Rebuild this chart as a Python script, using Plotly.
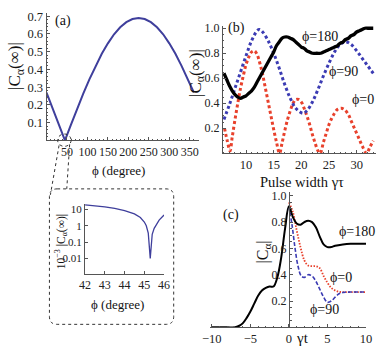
import plotly.graph_objects as go

W, H = 382, 354
FONT = "Liberation Serif, Times New Roman, serif"
NAVY = "#3f3f9c"
BLUE = "#3b3bb3"
RED = "#e8412c"
AX = "#555555"

# ---------------- data ----------------
# (a) |C_a(inf)| vs phi (degree)
phi_a = [0, 15, 30, 45, 60, 75, 90, 105, 120, 135, 150, 165, 180, 195, 210, 225,
         240, 255, 270, 285, 300, 315, 330, 345, 360]
c_a = [0.27, 0.18, 0.09, 0.0, 0.09, 0.18, 0.265, 0.345, 0.42, 0.488, 0.547, 0.598,
       0.637, 0.666, 0.684, 0.69, 0.684, 0.666, 0.637, 0.598, 0.547, 0.488, 0.42, 0.345, 0.27]

# inset: 10^-3 |C_a(inf)| vs phi near the zero
phi_in = [42, 42.5, 43, 43.5, 44, 44.5, 44.8, 45.0, 45.1, 45.2, 45.25, 45.28, 45.3,
          45.32, 45.35, 45.4, 45.5, 45.6, 45.75, 46]
c_in = [19, 17, 14.5, 11.5, 8.5, 5.3, 3.2, 1.7, 1.0, 0.35, 0.08, 0.02, 0.01,
        0.02, 0.1, 0.3, 0.7, 1.1, 2.2, 4.6]

# (b) |C_a(inf)| vs pulse width
tau_red = [6.1, 6.6, 7.1, 7.5, 8.0, 8.5, 9.0, 9.5, 10.0, 10.5, 11.0, 11.5, 12.0, 12.5,
           13.0, 13.5, 14.0, 14.5, 15.0, 15.5, 16.05, 16.5, 17.0, 17.5, 18.0, 18.5,
           19.0, 19.5, 20.0, 20.5, 21.0, 21.5, 22.0, 22.5, 23.0, 23.4, 24.0, 24.5,
           25.0, 25.5, 26.0, 26.5, 27.2, 27.8, 28.5, 29.0, 29.5, 30.0, 30.5, 31.0,
           31.8, 32.4, 33.0]
c_red = [0.20, 0.10, 0.02, 0.13, 0.27, 0.40, 0.52, 0.62, 0.71, 0.77, 0.81, 0.82, 0.79,
         0.72, 0.63, 0.52, 0.41, 0.30, 0.19, 0.09, 0.0, 0.08, 0.18, 0.27, 0.34, 0.40,
         0.43, 0.43, 0.41, 0.36, 0.30, 0.23, 0.15, 0.08, 0.02, 0.0, 0.09, 0.16,
         0.23, 0.28, 0.32, 0.35, 0.36, 0.35, 0.31, 0.26, 0.21, 0.16, 0.11, 0.06,
         0.0, 0.05, 0.10]

tau_blue = [6.0, 7.0, 8.0, 9.0, 10.0, 11.0, 12.0, 12.4, 13.0, 14.0, 15.0, 16.0, 17.0,
            18.0, 19.0, 20.3, 21.0, 22.0, 23.0, 24.0, 25.0, 26.0, 27.0, 28.1, 29.0,
            30.0, 31.0, 32.0, 33.0]
c_blue = [0.27, 0.39, 0.52, 0.65, 0.78, 0.90, 0.98, 0.99, 0.97, 0.90, 0.80, 0.68, 0.55,
          0.44, 0.36, 0.32, 0.34, 0.41, 0.51, 0.62, 0.72, 0.81, 0.87, 0.89, 0.87,
          0.82, 0.76, 0.70, 0.64]

tau_black = [6.0, 6.5, 7.0, 7.5, 8.0, 8.5, 9.0, 9.5, 10.0, 10.5, 11.0, 11.5, 12.0, 12.5,
             13.0, 13.5, 14.0, 14.5, 15.0, 15.5, 16.0, 16.5, 17.0, 17.5, 18.0, 18.5,
             19.0, 19.5, 20.0, 20.5, 21.0, 21.5, 22.0, 22.8, 23.5, 24.0, 24.5, 25.0,
             25.5, 26.0, 26.5, 27.0, 27.5, 28.0, 28.5, 29.0, 29.5, 30.0, 30.5, 31.0,
             31.5, 32.0, 32.5, 33.0]
c_black = [0.64, 0.59, 0.54, 0.50, 0.47, 0.45, 0.44, 0.45, 0.46, 0.48, 0.50, 0.53, 0.57,
           0.61, 0.65, 0.69, 0.73, 0.77, 0.81, 0.86, 0.89, 0.92, 0.93, 0.93, 0.92, 0.91,
           0.89, 0.87, 0.85, 0.84, 0.82, 0.81, 0.80, 0.80, 0.80, 0.81, 0.82, 0.83,
           0.84, 0.85, 0.86, 0.88, 0.89, 0.91, 0.92, 0.94, 0.95, 0.97, 0.98, 0.99,
           1.0, 1.0, 1.0, 1.0]

# (c) |C_a| vs gamma t
t_180 = [-10, -8, -7, -6.5, -6, -5.5, -5, -4.5, -4, -3.5, -3, -2.5, -2, -1.5, -1, -0.5,
         0, 0.5, 1, 1.5, 2, 2.5, 3, 3.5, 4, 4.5, 5, 5.5, 6, 7, 8, 9, 10]
c_180 = [0, 0, 0.0, 0.01, 0.03, 0.07, 0.12, 0.18, 0.24, 0.28, 0.30, 0.31, 0.31, 0.38,
         0.53, 0.75, 0.92, 0.84, 0.79, 0.78, 0.80, 0.81, 0.80, 0.76, 0.69, 0.63, 0.61,
         0.61, 0.62, 0.63, 0.635, 0.635, 0.635]
t_0 = [0, 0.5, 1, 1.5, 2, 2.5, 3, 3.5, 4, 4.5, 5, 5.5, 6, 6.5, 7, 8, 10]
c_0 = [0.95, 0.88, 0.74, 0.61, 0.51, 0.47, 0.465, 0.465, 0.45, 0.39, 0.34, 0.30, 0.28,
       0.27, 0.268, 0.268, 0.268]
t_90 = [0, 0.4, 0.8, 1.2, 1.6, 2, 2.5, 3, 3.5, 4, 4.5, 5, 5.5, 6, 6.5, 7, 8, 10]
c_90 = [0.92, 0.78, 0.60, 0.46, 0.39, 0.38, 0.40, 0.39, 0.35, 0.29, 0.23, 0.19, 0.20,
        0.23, 0.255, 0.265, 0.268, 0.268]

a_xticks = [50, 100, 150, 200, 250, 300, 350]
a_yticks = [0.1, 0.2, 0.3, 0.4, 0.5, 0.6, 0.7]
in_xticks = [42, 43, 44, 45, 46]
in_yticks = [0.01, 0.1, 1, 10]
in_ytext = ["0.01", "0.1", "1", "10"]
b_xticks = [10, 15, 20, 25, 30]
cy_ticks = [0.2, 0.4, 0.6, 0.8, 1.0]
c_xticks = [-10, -5, 0, 5, 10]


def px(x):
    return x / W


def py(y):
    return 1 - y / H


fig = go.Figure()
fig.add_trace(go.Scatter(x=phi_a, y=c_a, mode="lines", line=dict(color=NAVY, width=2),
                         xaxis="x", yaxis="y"))
fig.add_trace(go.Scatter(x=phi_in, y=c_in, mode="lines", line=dict(color=NAVY, width=1.3),
                         xaxis="x2", yaxis="y2"))
fig.add_trace(go.Scatter(x=tau_red, y=c_red, mode="lines", line_shape="spline",
                         line=dict(color=RED, width=3, dash="3px,2.6px"),
                         xaxis="x3", yaxis="y3"))
fig.add_trace(go.Scatter(x=tau_blue, y=c_blue, mode="lines", line_shape="spline",
                         line=dict(color=BLUE, width=3, dash="3px,2.6px"),
                         xaxis="x3", yaxis="y3"))
fig.add_trace(go.Scatter(x=tau_black, y=c_black, mode="lines", line_shape="spline",
                         line=dict(color="black", width=3.3),
                         xaxis="x3", yaxis="y3"))
fig.add_trace(go.Scatter(x=t_0, y=c_0, mode="lines", line_shape="spline",
                         line=dict(color=RED, width=1.8, dash="1.5px,1.5px"),
                         xaxis="x4", yaxis="y4"))
fig.add_trace(go.Scatter(x=t_90, y=c_90, mode="lines", line_shape="spline",
                         line=dict(color=BLUE, width=1.6, dash="4px,2px"),
                         xaxis="x4", yaxis="y4"))
fig.add_trace(go.Scatter(x=t_180, y=c_180, mode="lines", line_shape="spline",
                         line=dict(color="black", width=2),
                         xaxis="x4", yaxis="y4"))


def axstyle(size):
    return dict(showgrid=False, zeroline=False, showline=True, linecolor=AX, linewidth=1,
                ticks="inside", ticklen=3, tickcolor=AX,
                tickfont=dict(family=FONT, size=size, color="#222"))


mn = lambda d: dict(ticks="inside", ticklen=1.5, dtick=d, tickcolor=AX)

fig.update_layout(
    width=W, height=H, margin=dict(l=0, r=0, t=0, b=0),
    paper_bgcolor="white", plot_bgcolor="rgba(0,0,0,0)", showlegend=False,
    font=dict(family=FONT),
    xaxis=dict(domain=[px(40), px(198)], range=[0, 372], anchor="y", tickvals=a_xticks,
               minor=mn(10), **axstyle(12)),
    yaxis=dict(domain=[py(138), py(8.7)], range=[0, 0.72], anchor="x", tickvals=a_yticks,
               minor=mn(0.02), **axstyle(12.5)),
    xaxis2=dict(domain=[px(80), px(162)], range=[42, 46], anchor="y2", tickvals=in_xticks,
                **axstyle(12)),
    yaxis2=dict(domain=[py(273), py(202)], type="log", range=[-2.95, 1.35], anchor="x2",
                tickvals=in_yticks, ticktext=in_ytext, **axstyle(11)),
    xaxis3=dict(domain=[px(223), 1.0], range=[5.8, 33.5], anchor="y3", tickvals=b_xticks,
                minor=mn(1), **axstyle(12.5)),
    yaxis3=dict(domain=[py(151), py(22)], range=[0, 1.02], anchor="x3", tickvals=cy_ticks,
                tickformat=".1f", minor=mn(0.05), **axstyle(12)),
    xaxis4=dict(domain=[px(210), px(372)], range=[-10.2, 10.05], anchor="y4",
                tickvals=c_xticks, minor=mn(1), **axstyle(12.5)),
    yaxis4=dict(domain=[py(327), py(190)], range=[0, 1.03], anchor="free",
                position=px(291.7), tickvals=cy_ticks, tickformat=".1f",
                minor=mn(0.05), **axstyle(12)),
)


def ann(x, y, text, size=14, angle=0):
    fig.add_annotation(x=px(x), y=py(y), xref="paper", yref="paper", text=text,
                       showarrow=False, textangle=angle, xanchor="center", yanchor="middle",
                       font=dict(family=FONT, size=size, color="#111"))


ann(57, 17, "(a)", 14)
ann(237, 24, "(b)", 14)
ann(232, 213, "(c)", 14)
ann(9, 63, "|C<sub>α</sub>(∞)|", 17, -90)
ann(196, 70, "|C<sub>α</sub>(∞)|", 17, -90)
ann(115, 168, "ϕ (degree)", 13)
ann(114, 304, "ϕ (degree)", 13)
ann(55, 240, "10<sup>−3</sup> |C<sub>α</sub>(∞)|", 11.5, -90)
ann(305, 180, "Pulse width γτ", 14.5)
ann(306, 338, "γt", 15)
ann(265, 251, "|C<sub>α</sub>|", 16, -90)
ann(324, 33, "ϕ=180", 14)
ann(348, 68, "ϕ=90", 14)
ann(368, 97, "ϕ=0", 14)
ann(362, 230, "ϕ=180", 14)
ann(346, 277, "ϕ=0", 14)
ann(329, 309, "ϕ=90", 14)

dot = dict(color="#333", width=1, dash="dot")
# ellipse around the zero of panel (a)
fig.add_shape(type="circle", xref="paper", yref="paper", x0=px(51.5), x1=px(65.5),
              y0=py(144), y1=py(131.5), line=dot)
# connector lines
fig.add_shape(type="line", xref="paper", yref="paper", x0=px(53), y0=py(143),
              x1=px(44), y1=py(193), line=dot)
fig.add_shape(type="line", xref="paper", yref="paper", x0=px(64), y0=py(142),
              x1=px(61), y1=py(187), line=dot)
# rounded inset frame
x0, x1, y0, y1, r = 43, 172, 187, 324, 8
path = (f"M {px(x0 + r)},{py(y0)} L {px(x1 - r)},{py(y0)} "
        f"Q {px(x1)},{py(y0)} {px(x1)},{py(y0 + r)} L {px(x1)},{py(y1 - r)} "
        f"Q {px(x1)},{py(y1)} {px(x1 - r)},{py(y1)} L {px(x0 + r)},{py(y1)} "
        f"Q {px(x0)},{py(y1)} {px(x0)},{py(y1 - r)} L {px(x0)},{py(y0 + r)} "
        f"Q {px(x0)},{py(y0)} {px(x0 + r)},{py(y0)} Z")
fig.add_shape(type="path", xref="paper", yref="paper", path=path, line=dot)

fig.write_html("out.html", config={"displayModeBar": False, "staticPlot": True},
               post_script="document.body.style.margin='0';"
                           "document.body.style.overflow='hidden';")
